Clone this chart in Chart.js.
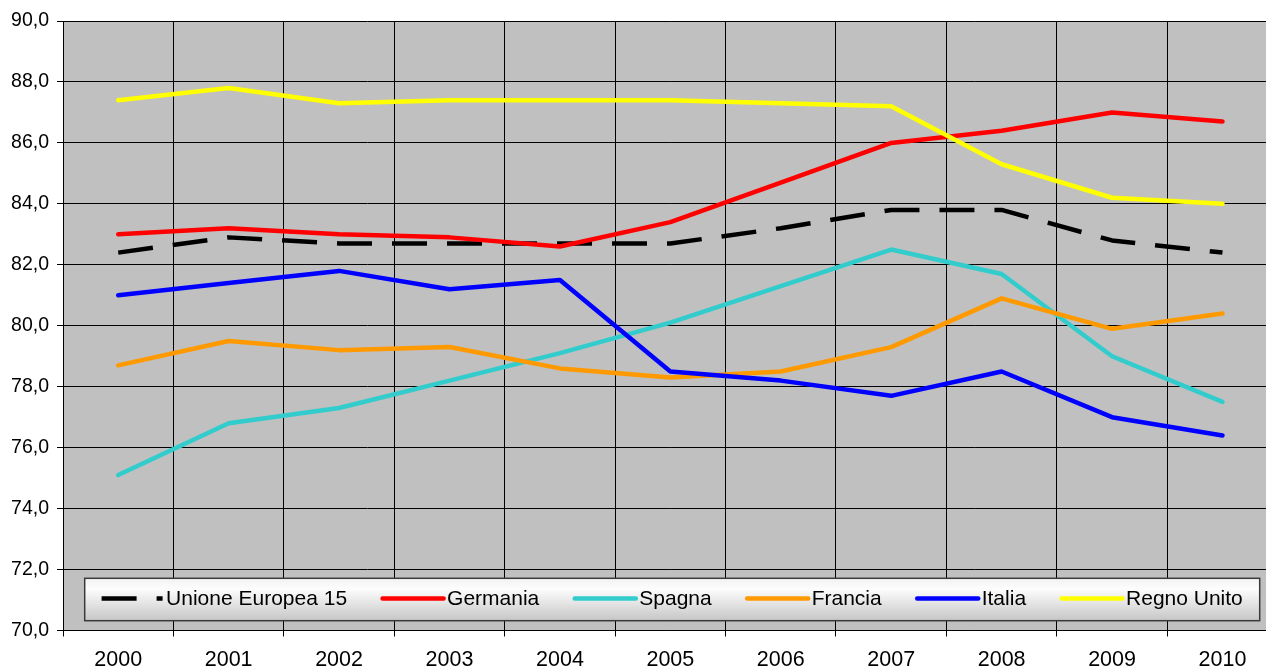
<!DOCTYPE html>
<html lang="it">
<head>
<meta charset="utf-8">
<title>Confronto paesi 2000-2010</title>
<script src="https://cdn.jsdelivr.net/npm/chart.js@4.4.1/dist/chart.umd.min.js"></script>
<style>
  html, body { margin: 0; padding: 0; overflow: hidden; background: #ffffff; }
  #wrap { position: relative; width: 1290px; height: 668px; }
</style>
</head>
<body>
<div id="wrap"><canvas id="chart"></canvas></div>
<script>
// Anni (categorie sull'asse orizzontale)
const years = ['2000', '2001', '2002', '2003', '2004', '2005', '2006', '2007', '2008', '2009', '2010'];

// Valori per paese
const ue15       = [82.4, 82.9, 82.7, 82.7, 82.7, 82.7, 83.2, 83.8, 83.8, 82.8, 82.4];
const germania   = [83.0, 83.2, 83.0, 82.9, 82.6, 83.4, 84.7, 86.0, 86.4, 87.0, 86.7];
const spagna     = [75.1, 76.8, 77.3, 78.2, 79.1, 80.1, 81.3, 82.5, 81.7, 79.0, 77.5];
const francia    = [78.7, 79.5, 79.2, 79.3, 78.6, 78.3, 78.5, 79.3, 80.9, 79.9, 80.4];
const italia     = [81.0, 81.4, 81.8, 81.2, 81.5, 78.5, 78.2, 77.7, 78.5, 77.0, 76.4];
const regnoUnito = [87.4, 87.8, 87.3, 87.4, 87.4, 87.4, 87.3, 87.2, 85.3, 84.2, 84.0];

// Nomi delle serie
const seriesNames = ['Unione Europea 15', 'Germania', 'Spagna', 'Francia', 'Italia', 'Regno Unito'];

// Asse verticale
const yMin = 70, yMax = 90, yStep = 2;

const FONT = "'Liberation Sans', Arial, sans-serif";

function line(label, data, color, idx, dash) {
  return {
    label, data,
    borderColor: color,
    backgroundColor: color,
    borderWidth: 4.5,
    borderDash: dash || [],
    borderCapStyle: dash ? 'butt' : 'round',
    borderJoinStyle: 'round',
    pointRadius: 0,
    tension: 0,
    fill: false,
    order: 10 - idx
  };
}

// Sfondo grigio dell'area del grafico
const plotBackground = {
  id: 'plotBackground',
  beforeDraw(chart) {
    const { ctx, chartArea: a } = chart;
    ctx.save();
    ctx.fillStyle = '#C0C0C0';
    ctx.fillRect(a.left, a.top, a.right - a.left, a.bottom - a.top);
    ctx.restore();
  }
};

// Legenda in riquadro all'interno dell'area del grafico, in basso
const boxedLegend = {
  id: 'boxedLegend',
  afterDatasetsDraw(chart, args, opts) {
    const { ctx, chartArea: a } = chart;
    const left = a.left + opts.offsetLeft;
    const right = a.left + opts.offsetRight;
    const bottom = a.bottom - opts.offsetBottom;
    const top = bottom - opts.height;
    ctx.save();
    const g = ctx.createLinearGradient(0, top, 0, bottom);
    g.addColorStop(0, '#f2f2f2');
    g.addColorStop(0.25, '#fdfdfd');
    g.addColorStop(1, '#c6c6c6');
    ctx.fillStyle = g;
    ctx.fillRect(left, top, right - left, bottom - top);
    ctx.strokeStyle = '#3a3a3a';
    ctx.lineWidth = 1.5;
    ctx.strokeRect(left, top, right - left, bottom - top);

    ctx.font = opts.fontSize + 'px ' + FONT;
    const items = chart.data.datasets.map(ds => ({
      ds, w: opts.lineLen + opts.textGap + ctx.measureText(ds.label).width
    }));
    const total = items.reduce((s, it) => s + it.w, 0) + opts.itemGap * (items.length - 1);
    let x = (left + right) / 2 - total / 2;
    const cy = (top + bottom) / 2 - 1;
    items.forEach(it => {
      ctx.beginPath();
      ctx.setLineDash(it.ds.borderDash || []);
      ctx.lineCap = (it.ds.borderDash && it.ds.borderDash.length) ? 'butt' : 'round';
      ctx.strokeStyle = it.ds.borderColor;
      ctx.lineWidth = 4.5;
      ctx.moveTo(x, cy);
      ctx.lineTo(x + opts.lineLen, cy);
      ctx.stroke();
      ctx.setLineDash([]);
      ctx.fillStyle = '#000000';
      ctx.textAlign = 'left';
      ctx.textBaseline = 'middle';
      ctx.fillText(it.ds.label, x + opts.lineLen + opts.textGap, cy + 1);
      x += it.w + opts.itemGap;
    });
    ctx.restore();
  }
};

new Chart(document.getElementById('chart'), {
  type: 'line',
  data: {
    labels: years,
    datasets: [
      line(seriesNames[0], ue15, '#000000', 0, [35, 20]),
      line(seriesNames[1], germania, '#FF0000', 1),
      line(seriesNames[2], spagna, '#33CCCC', 2),
      line(seriesNames[3], francia, '#FF9900', 3),
      line(seriesNames[4], italia, '#0000FF', 4),
      line(seriesNames[5], regnoUnito, '#FFFF00', 5)
    ]
  },
  options: {
    responsive: true,
    maintainAspectRatio: false,
    animation: false,
    events: [],
    layout: { padding: { top: 21, right: 12.3, left: 0, bottom: 0 } },
    plugins: {
      legend: { display: false },
      tooltip: { enabled: false },
      boxedLegend: {
        offsetLeft: 21.7, offsetRight: 1196.7, offsetBottom: 9.8, height: 42.4,
        fontSize: 21, lineLen: 61, textGap: 3.5, itemGap: 35.5
      }
    },
    scales: {
      x: {
        offset: true,
        grid: { offset: true, color: '#000000', lineWidth: 1, tickLength: 6, drawTicks: true },
        border: { color: '#000000', width: 1 },
        ticks: { color: '#000000', font: { family: FONT, size: 21.5 }, padding: 11, maxRotation: 0, autoSkip: false },
        afterFit(scale) { scale.height = 37.5; }
      },
      y: {
        min: yMin, max: yMax,
        grid: { color: '#000000', lineWidth: 1, tickLength: 6 },
        border: { color: '#000000', width: 1 },
        ticks: {
          stepSize: yStep,
          color: '#000000',
          font: { family: FONT, size: 19.5 },
          padding: 8,
          callback: v => v.toFixed(1).replace('.', ',')
        },
        afterFit(scale) { scale.width = 63; }
      }
    }
  },
  plugins: [plotBackground, boxedLegend]
});
</script>
</body>
</html>
